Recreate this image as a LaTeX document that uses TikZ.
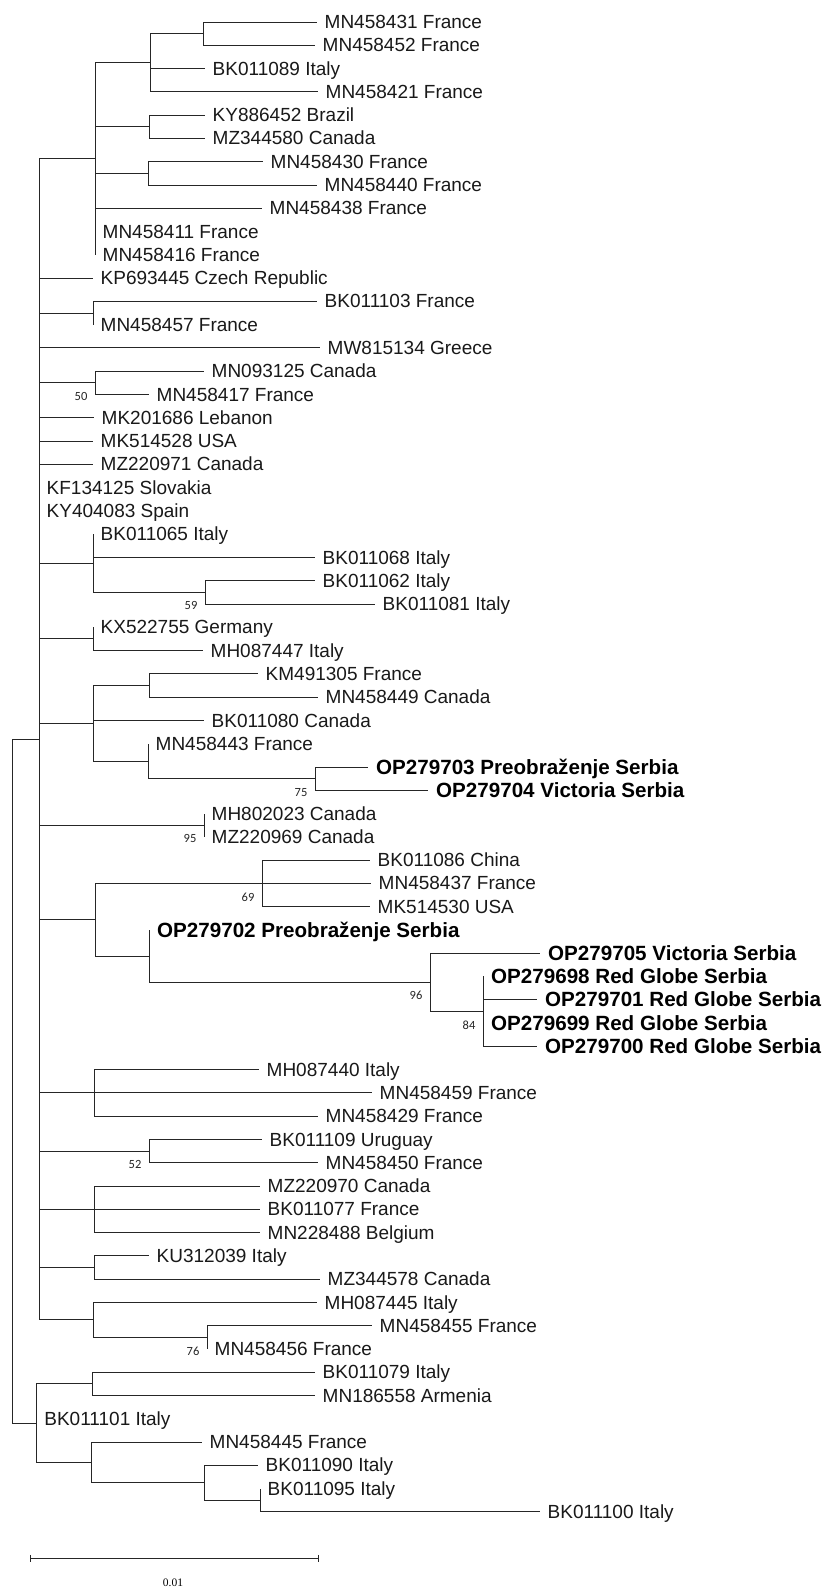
\documentclass[tikz,border=0pt]{standalone}
\usepackage{fontspec}
\setmainfont{Liberation Sans}
\newfontfamily\bsfont{Carlito}
\newfontfamily\scfont{Liberation Serif}
\newcommand\yy[1]{-(22+23.28*(#1))}
\tikzset{
  br/.style={draw=black!85, line width=0.9pt},
  lbl/.style={anchor=base west, inner sep=0pt, xshift=7.5pt, yshift=-6.6pt,
              font=\fontsize{19}{22}\selectfont, text=black!90},
  blbl/.style={anchor=base west, inner sep=0pt, xshift=8pt, yshift=-7.2pt,
              font=\fontsize{20.6}{24}\selectfont\bfseries, text=black},
  boot/.style={anchor=center, inner sep=0pt, xshift=-14pt, yshift=-13.5pt,
              font=\bsfont\fontsize{12.5}{14}\selectfont, text=black!85},
}
\newcommand\inode[3]{\coordinate (#1) at (#2,{\yy{#3}});}
\newcommand\leaf[5]{% name, x, idx, parent, text
  \coordinate (#1) at (#2,{\yy{#3}});
  \draw[br] (#4) |- (#1);
  \node[lbl] (t#1) at (#1) {#5};}
\newcommand\bleaf[5]{%
  \coordinate (#1) at (#2,{\yy{#3}});
  \draw[br] (#4) |- (#1);
  \node[blbl] (t#1) at (#1) {#5};}
\newcommand\edge[2]{\draw[br] (#1) |- (#2);}
\begin{document}
\begin{tikzpicture}[x=1pt,y=1pt]
\fill[white] (0,0) rectangle (826,-1589);
\useasboundingbox (0,0) rectangle (826,-1589);
% internal nodes
\inode{R}{12}{45.5}
\inode{A}{39}{30.8125}
\inode{B}{36.7}{60.1875}
\inode{S1}{95}{5.875}
\inode{S1a}{150}{1.75}
\inode{N01}{203}{0.5}
\inode{S1b}{149}{4.5}
\inode{S1c}{148}{6.5}
\inode{N1213}{93}{12.5}
\inode{N1516}{95}{15.5}
\inode{N2225}{93}{23.25}
\inode{N2425}{205}{24.5}
\inode{N2627}{93}{26.5}
\inode{N2833}{93}{30.125}
\inode{N2829}{149}{28.5}
\inode{N3133}{148}{31.75}
\inode{N3233}{315}{32.5}
\inode{N3435}{204}{34.5}
\inode{N3644}{95}{38.5625}
\inode{N3638}{262}{37}
\inode{N3944}{149}{40.125}
\inode{N4044}{430}{41.25}
\inode{N4144}{483}{42.5}
\inode{N4547}{94}{46}
\inode{N4849}{149}{48.5}
\inode{N5052}{94}{51}
\inode{N5354}{94}{53.5}
\inode{N5557}{93}{55.75}
\inode{N5657}{207}{56.5}
\inode{N5859}{92}{58.5}
\inode{N6164}{91}{61.875}
\inode{N6264}{204}{62.75}
\inode{N6364}{260}{63.5}
% internal edges
\edge{R}{A}\edge{R}{B}
\edge{A}{S1}\edge{S1}{S1a}\edge{S1a}{N01}\edge{S1}{S1b}\edge{S1}{S1c}
\edge{A}{N1213}\edge{A}{N1516}\edge{A}{N2225}\edge{N2225}{N2425}
\edge{A}{N2627}\edge{A}{N2833}\edge{N2833}{N2829}\edge{N2833}{N3133}\edge{N3133}{N3233}
\edge{A}{N3435}\edge{A}{N3644}\edge{N3644}{N3638}\edge{N3644}{N3944}\edge{N3944}{N4044}\edge{N4044}{N4144}
\edge{A}{N4547}\edge{A}{N4849}\edge{A}{N5052}\edge{A}{N5354}\edge{A}{N5557}\edge{N5557}{N5657}
\edge{B}{N5859}\edge{B}{N6164}\edge{N6164}{N6264}\edge{N6264}{N6364}
% leaves
\leaf{L0}{317}{0}{N01}{MN458431 France}
\leaf{L1}{315}{1}{N01}{MN458452 France}
\leaf{L2}{205}{2}{S1a}{BK011089 Italy}
\leaf{L3}{318}{3}{S1a}{MN458421 France}
\leaf{L4}{205}{4}{S1b}{KY886452 Brazil}
\leaf{L5}{205}{5}{S1b}{MZ344580 Canada}
\leaf{L6}{263}{6}{S1c}{MN458430 France}
\leaf{L7}{317}{7}{S1c}{MN458440 France}
\leaf{L8}{262}{8}{S1}{MN458438 France}
\leaf{L9}{95}{9}{S1}{MN458411 France}
\leaf{L10}{95}{10}{S1}{MN458416 France}
\leaf{L11}{93}{11}{A}{KP693445 Czech Republic}
\leaf{L12}{317}{12}{N1213}{BK011103 France}
\leaf{L13}{93}{13}{N1213}{MN458457 France}
\leaf{L14}{320}{14}{A}{MW815134 Greece}
\leaf{L15}{204}{15}{N1516}{MN093125 Canada}
\leaf{L16}{149}{16}{N1516}{MN458417 France}
\leaf{L17}{94}{17}{A}{MK201686 Lebanon}
\leaf{L18}{93}{18}{A}{MK514528 USA}
\leaf{L19}{93}{19}{A}{MZ220971 Canada}
\leaf{L20}{39}{20}{A}{KF134125 Slovakia}
\leaf{L21}{39}{21}{A}{KY404083 Spain}
\leaf{L22}{93}{22}{N2225}{BK011065 Italy}
\leaf{L23}{315}{23}{N2225}{BK011068 Italy}
\leaf{L24}{315}{24}{N2425}{BK011062 Italy}
\leaf{L25}{375}{25}{N2425}{BK011081 Italy}
\leaf{L26}{93}{26}{N2627}{KX522755 Germany}
\leaf{L27}{203}{27}{N2627}{MH087447 Italy}
\leaf{L28}{258}{28}{N2829}{KM491305 France}
\leaf{L29}{318}{29}{N2829}{MN458449 Canada}
\leaf{L30}{204}{30}{N2833}{BK011080 Canada}
\leaf{L31}{148}{31}{N3133}{MN458443 France}
\bleaf{L32}{368}{32}{N3233}{OP279703 Preobraženje Serbia}
\bleaf{L33}{428}{33}{N3233}{OP279704 Victoria Serbia}
\leaf{L34}{204}{34}{N3435}{MH802023 Canada}
\leaf{L35}{204}{35}{N3435}{MZ220969 Canada}
\leaf{L36}{370}{36}{N3638}{BK011086 China}
\leaf{L37}{371}{37}{N3638}{MN458437 France}
\leaf{L38}{370}{38}{N3638}{MK514530 USA}
\bleaf{L39}{149}{39}{N3944}{OP279702 Preobraženje Serbia}
\bleaf{L40}{540}{40}{N4044}{OP279705 Victoria Serbia}
\bleaf{L41}{483}{41}{N4144}{OP279698 Red Globe Serbia}
\bleaf{L42}{537}{42}{N4144}{OP279701 Red Globe Serbia}
\bleaf{L43}{483}{43}{N4144}{OP279699 Red Globe Serbia}
\bleaf{L44}{537}{44}{N4144}{OP279700 Red Globe Serbia}
\leaf{L45}{259}{45}{N4547}{MH087440 Italy}
\leaf{L46}{372}{46}{N4547}{MN458459 France}
\leaf{L47}{318}{47}{N4547}{MN458429 France}
\leaf{L48}{262}{48}{N4849}{BK011109 Uruguay}
\leaf{L49}{318}{49}{N4849}{MN458450 France}
\leaf{L50}{260}{50}{N5052}{MZ220970 Canada}
\leaf{L51}{260}{51}{N5052}{BK011077 France}
\leaf{L52}{260}{52}{N5052}{MN228488 Belgium}
\leaf{L53}{149}{53}{N5354}{KU312039 Italy}
\leaf{L54}{320}{54}{N5354}{MZ344578 Canada}
\leaf{L55}{317}{55}{N5557}{MH087445 Italy}
\leaf{L56}{372}{56}{N5657}{MN458455 France}
\leaf{L57}{207}{57}{N5657}{MN458456 France}
\leaf{L58}{315}{58}{N5859}{BK011079 Italy}
\leaf{L59}{315}{59}{N5859}{MN186558 Armenia}
\leaf{L60}{36.7}{60}{B}{BK011101 Italy}
\leaf{L61}{202}{61}{N6164}{MN458445 France}
\leaf{L62}{258}{62}{N6264}{BK011090 Italy}
\leaf{L63}{260}{63}{N6364}{BK011095 Italy}
\leaf{L64}{540}{64}{N6364}{BK011100 Italy}
% bootstrap values
\node[boot] (b1) at (N1516) {50};
\node[boot] (b2) at (N2425) {59};
\node[boot] (b3) at (N3233) {75};
\node[boot] (b4) at (N3435) {95};
\node[boot] (b5) at (N3638) {69};
\node[boot] (b6) at (N4044) {96};
\node[boot] (b7) at (N4144) {84};
\node[boot] (b8) at (N4849) {52};
\node[boot] (b9) at (N5657) {76};
% scale bar
\coordinate (s1) at (30,-1558.3);
\coordinate (s2) at (318,-1558.3);
\draw[br, line width=0.8pt] (s1) -- (s2);
\draw[br, line width=0.8pt] ([yshift=3.5pt]s1) -- ([yshift=-3.5pt]s1);
\draw[br, line width=0.8pt] ([yshift=3.5pt]s2) -- ([yshift=-3.5pt]s2);
\node[inner sep=0pt, font=\scfont\fontsize{11.5}{13}\selectfont] (sl) at (173,-1583) {0.01};
\end{tikzpicture}
\end{document}
